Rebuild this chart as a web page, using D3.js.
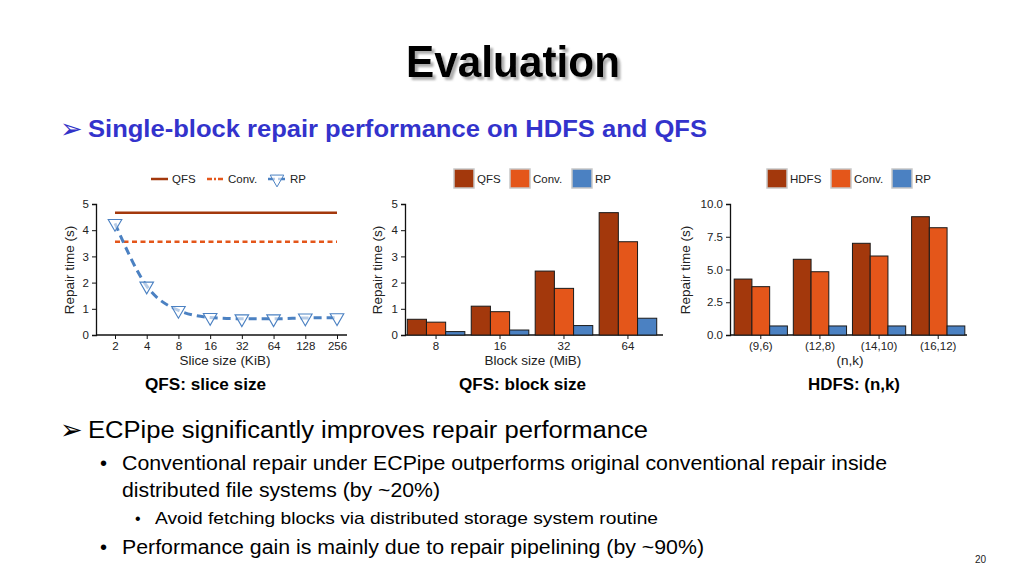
<!DOCTYPE html>
<html><head><meta charset="utf-8">
<script src="https://cdn.jsdelivr.net/npm/d3@7"></script>
<style>
html,body{margin:0;padding:0;background:#fff;}
svg{display:block;font-family:"Liberation Sans",Arial,sans-serif;}
</style></head>
<body>
<svg id="c" width="1024" height="576"></svg>
<script>
// ---- data ----
const sliceSizes = ["2","4","8","16","32","64","128","256"];
const sliceQFS = [4.67,4.67,4.67,4.67,4.67,4.67,4.67,4.67];
const sliceConv = [3.56,3.56,3.56,3.56,3.56,3.56,3.56,3.56];
const sliceRP = [4.26,1.87,0.94,0.67,0.62,0.62,0.65,0.66];

const blockSizes = ["8","16","32","64"];
const blockQFS = [0.6,1.1,2.44,4.67];
const blockConv = [0.49,0.89,1.78,3.56];
const blockRP = [0.13,0.19,0.36,0.64];

const nkLabels = ["(9,6)","(12,8)","(14,10)","(16,12)"];
const nkHDFS = [4.27,5.78,7.0,9.03];
const nkConv = [3.69,4.83,6.03,8.19];
const nkRP = [0.69,0.69,0.69,0.69];

const yTicks5 = [0,1,2,3,4,5];
const yTicks10 = [0,2.5,5,7.5,10];

const C_DARK = "#a3380c", C_ORANGE = "#e4561a", C_BLUE = "#4b81c2";

const svg = d3.select("#c");
const defs = svg.append("defs");
defs.append("filter").attr("id","sh").attr("x","-10%").attr("y","-20%").attr("width","130%").attr("height","150%")
  .append("feDropShadow").attr("dx",3).attr("dy",3).attr("stdDeviation",1.2)
  .attr("flood-color","#777").attr("flood-opacity",0.6);

// ---- slide text ----
svg.append("text").attr("x",513).attr("y",77).attr("text-anchor","middle")
  .attr("font-size",44).attr("font-weight","bold").attr("fill","#000").attr("filter","url(#sh)")
  .attr("textLength",214).attr("lengthAdjust","spacingAndGlyphs").text("Evaluation");

svg.append("text").attr("x",60).attr("y",138).attr("font-size",27).attr("fill","#3232c8").text("➢");
svg.append("text").attr("x",88).attr("y",137).attr("font-size",23).attr("font-weight","bold")
  .attr("fill","#3333cc").attr("textLength",619).attr("lengthAdjust","spacingAndGlyphs")
  .text("Single-block repair performance on HDFS and QFS");

const captions = [["QFS: slice size",145,121],["QFS: block size",459,127],["HDFS: (n,k)",808,92]];
captions.forEach(c=>svg.append("text").attr("x",c[1]).attr("y",390)
  .attr("font-size",16).attr("font-weight","bold")
  .attr("textLength",c[2]).attr("lengthAdjust","spacingAndGlyphs").text(c[0]));

svg.append("text").attr("x",60).attr("y",439).attr("font-size",27).text("➢");
svg.append("text").attr("x",88).attr("y",438).attr("font-size",23)
  .attr("textLength",560).attr("lengthAdjust","spacingAndGlyphs")
  .text("ECPipe significantly improves repair performance");
svg.append("text").attr("x",100).attr("y",470).attr("font-size",20).text("•");
svg.append("text").attr("x",122).attr("y",470).attr("font-size",20)
  .attr("textLength",765).attr("lengthAdjust","spacingAndGlyphs")
  .text("Conventional repair under ECPipe outperforms original conventional repair inside");
svg.append("text").attr("x",122).attr("y",497).attr("font-size",20)
  .attr("textLength",318).attr("lengthAdjust","spacingAndGlyphs")
  .text("distributed file systems (by ~20%)");
svg.append("text").attr("x",135).attr("y",524).attr("font-size",16).text("•");
svg.append("text").attr("x",155).attr("y",524).attr("font-size",17)
  .attr("textLength",503).attr("lengthAdjust","spacingAndGlyphs")
  .text("Avoid fetching blocks via distributed storage system routine");
svg.append("text").attr("x",100).attr("y",554).attr("font-size",20).text("•");
svg.append("text").attr("x",122).attr("y",554).attr("font-size",20)
  .attr("textLength",582).attr("lengthAdjust","spacingAndGlyphs")
  .text("Performance gain is mainly due to repair pipelining (by ~90%)");
svg.append("text").attr("x",975).attr("y",563).attr("font-size",10).attr("fill","#222").text("20");

// ---- helpers ----
function yAxis(g, y, ticks, fmt){
  const a = g.append("g").attr("transform",`translate(${y.x0},0)`)
    .call(d3.axisLeft(y).tickValues(ticks).tickSize(4).tickPadding(3).tickFormat(fmt));
  a.select(".domain").attr("stroke","#111").attr("stroke-width",1.3);
  a.selectAll(".tick line").attr("stroke","#111");
  a.selectAll("text").attr("font-size",11.5).attr("fill","#222").attr("font-family","Liberation Sans, Arial");
}
function xAxisStyle(a){
  a.select(".domain").attr("stroke","#111").attr("stroke-width",1.3);
  a.selectAll(".tick line").attr("stroke","#111");
  a.selectAll("text").attr("font-size",11.5).attr("fill","#222").attr("font-family","Liberation Sans, Arial");
}
function yLabel(x, cy){
  svg.append("text").attr("transform",`translate(${x},${cy}) rotate(-90)`).attr("text-anchor","middle")
    .attr("font-size",13.5).attr("fill","#222").text("Repair time (s)");
}
function xLabel(x, y, t){
  svg.append("text").attr("x",x).attr("y",y).attr("text-anchor","middle")
    .attr("font-size",13.5).attr("fill","#222").text(t);
}
function boxLegend(items){
  items.forEach(it=>{
    svg.append("rect").attr("x",it.x).attr("y",169).attr("width",20).attr("height",19)
      .attr("fill",it.c).attr("stroke","#c8c8c8").attr("stroke-width",1.5);
    svg.append("text").attr("x",it.x+23).attr("y",183).attr("font-size",11.5).attr("fill","#222").text(it.t);
  });
}

// ---- Chart 1: line chart ----
{
  const y = d3.scaleLinear().domain([0,5]).range([335,204]); y.x0 = 96;
  const x = d3.scalePoint().domain(sliceSizes).range([115,337]);
  const g = svg.append("g");
  yAxis(g, y, yTicks5, d3.format("d"));
  const xa = g.append("g").attr("transform","translate(0,335)")
    .call(d3.axisBottom(x).tickSize(4).tickPadding(3));
  xa.select(".domain").attr("d","M96,0H347");
  xAxisStyle(xa);
  const line = d3.line().x((d,i)=>x(sliceSizes[i])).y(d=>y(d));
  g.append("path").datum(sliceQFS).attr("d",line).attr("fill","none").attr("stroke",C_DARK).attr("stroke-width",2.5);
  g.append("path").datum(sliceConv).attr("d",line).attr("fill","none").attr("stroke",C_ORANGE)
    .attr("stroke-width",2.5).attr("stroke-dasharray","5,3.5");
  g.append("path").datum(sliceRP).attr("d",line.curve(d3.curveMonotoneX)).attr("fill","none").attr("stroke",C_BLUE)
    .attr("stroke-width",3).attr("stroke-dasharray","8,5");
  const tri = d3.symbol().type(d3.symbolTriangle).size(80);
  g.selectAll(".m").data(sliceRP).enter().append("path")
    .attr("transform",(d,i)=>`translate(${x(sliceSizes[i])},${y(d)}) rotate(180)`)
    .attr("d",tri).attr("fill","#fff").attr("fill-opacity",0.6).attr("stroke",C_BLUE).attr("stroke-width",1.1);
  yLabel(74, 270); xLabel(225, 365, "Slice size (KiB)");
  // legend
  svg.append("line").attr("x1",151).attr("x2",168).attr("y1",179).attr("y2",179).attr("stroke",C_DARK).attr("stroke-width",2.5);
  svg.append("text").attr("x",172).attr("y",183).attr("font-size",11.5).attr("fill","#222").text("QFS");
  svg.append("line").attr("x1",207).attr("x2",224).attr("y1",179).attr("y2",179).attr("stroke",C_ORANGE).attr("stroke-width",2.5).attr("stroke-dasharray","5,2,2,2");
  svg.append("text").attr("x",228).attr("y",183).attr("font-size",11.5).attr("fill","#222").text("Conv.");
  svg.append("line").attr("x1",268).attr("x2",287).attr("y1",179).attr("y2",179).attr("stroke",C_BLUE).attr("stroke-width",2.5).attr("stroke-dasharray","7,3");
  svg.append("path").attr("transform","translate(277,179) rotate(180)").attr("d",tri).attr("fill","#fff").attr("fill-opacity",0.6).attr("stroke",C_BLUE);
  svg.append("text").attr("x",290).attr("y",183).attr("font-size",11.5).attr("fill","#222").text("RP");
}

// ---- bar chart helper ----
function barChart(cfg){
  const y = d3.scaleLinear().domain([0,cfg.ymax]).range([335,204]); y.x0 = cfg.axisX;
  const x0 = d3.scaleBand().domain(cfg.cats).range(cfg.range).paddingInner(0.1).paddingOuter(0.02);
  const series = cfg.series;
  const x1 = d3.scaleBand().domain(d3.range(series.length)).range([0,x0.bandwidth()]);
  const g = svg.append("g");
  yAxis(g, y, cfg.ticks, cfg.fmt);
  const xa = g.append("g").attr("transform","translate(0,335)")
    .call(d3.axisBottom(x0).tickSize(4).tickPadding(3));
  xa.select(".domain").attr("d",`M${cfg.axisX},0H${cfg.axisEnd}`);
  xAxisStyle(xa);
  series.forEach((s,si)=>{
    g.selectAll(".b"+si).data(s.vals).enter().append("rect")
      .attr("x",(d,i)=>x0(cfg.cats[i])+x1(si)).attr("width",x1.bandwidth())
      .attr("y",d=>y(d)).attr("height",d=>y(0)-y(d))
      .attr("fill",s.c).attr("stroke","#1a1a1a").attr("stroke-width",1);
  });
}

barChart({cats:blockSizes, ymax:5, ticks:yTicks5, fmt:d3.format("d"), axisX:405, axisEnd:663, range:[406,658],
  series:[{vals:blockQFS,c:C_DARK},{vals:blockConv,c:C_ORANGE},{vals:blockRP,c:C_BLUE}]});
yLabel(382, 270); xLabel(533, 365, "Block size (MiB)");
boxLegend([{x:454,c:C_DARK,t:"QFS"},{x:510,c:C_ORANGE,t:"Conv."},{x:572,c:C_BLUE,t:"RP"}]);

barChart({cats:nkLabels, ymax:10, ticks:yTicks10, fmt:d3.format(".1f"), axisX:730, axisEnd:967, range:[733,966],
  series:[{vals:nkHDFS,c:C_DARK},{vals:nkConv,c:C_ORANGE},{vals:nkRP,c:C_BLUE}]});
yLabel(690, 270); xLabel(850, 365, "(n,k)");
boxLegend([{x:767,c:C_DARK,t:"HDFS"},{x:831,c:C_ORANGE,t:"Conv."},{x:892,c:C_BLUE,t:"RP"}]);
</script>
</body></html>
